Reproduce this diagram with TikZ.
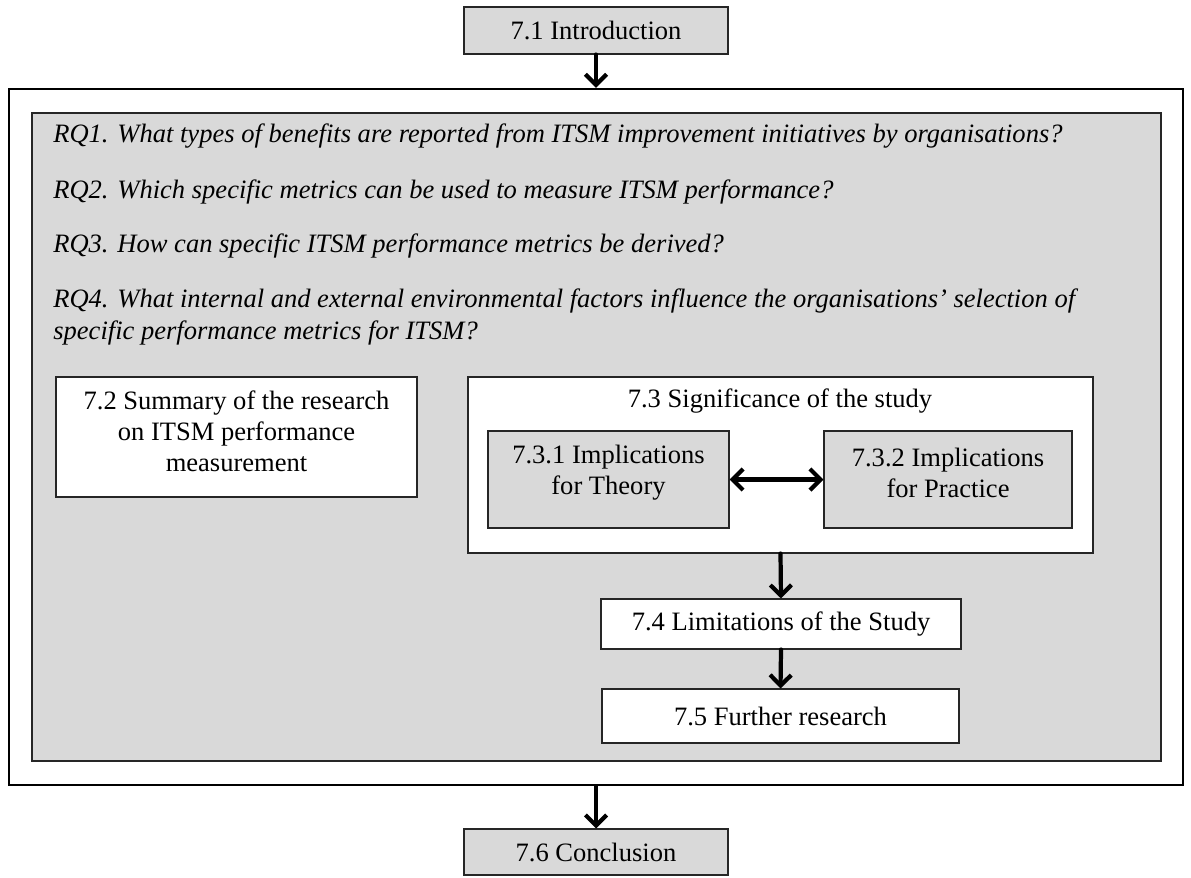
\documentclass[tikz,border=0pt]{standalone}
\usepackage{fontspec}
\setmainfont{Liberation Serif}
\usepackage{tikz}
\usetikzlibrary{arrows.meta,positioning}
\definecolor{Panel}{HTML}{D9D9D9}

\begin{document}
\begin{tikzpicture}[
    box/.style={draw=black!85,line width=0.6pt,inner sep=0pt,align=center,
      font=\fontsize{15.1}{17.6}\selectfont},
    rq/.style={anchor=west,align=left,inner sep=0pt,
      font=\fontsize{15.1}{18.2}\selectfont\itshape},
    arr/.style={-{Straight Barb[length=6pt,width=12pt]},line width=2.4pt,line cap=round},
    twoway/.style={{Straight Barb[length=6pt,width=12pt]}-{Straight Barb[length=6pt,width=12pt]},
      line width=2.4pt}
  ]
    \useasboundingbox (0,0) rectangle (23.82,-17.54);

    % outer frame and grey panel
    \node[draw,line width=1.4pt,minimum width=23.48cm,minimum height=13.92cm,inner sep=0pt]
      (frame) at (11.92,-8.74) {};
    \node[box,fill=Panel,minimum width=22.58cm,minimum height=12.96cm] (panel) at (11.93,-8.74) {};

    \node[box,fill=Panel,minimum width=5.28cm,minimum height=0.94cm] (intro) at (11.92,-0.61)
      {7.1 Introduction};
    \node[box,fill=Panel,minimum width=5.28cm,minimum height=0.92cm] (concl) at (11.92,-17.04)
      {7.6 Conclusion};

    % research questions
    \node[rq] (rq1) at (1.06,-2.72)
      {RQ1. What types of benefits are reported from ITSM improvement initiatives by organisations?};
    \node[rq] (rq2) at (1.06,-3.84)
      {RQ2. Which specific metrics can be used to measure ITSM performance?};
    \node[rq] (rq3) at (1.06,-4.92)
      {RQ3. How can specific ITSM performance metrics be derived?};
    \node[rq] (rq4) at (1.06,-6.34)
      {RQ4. What internal and external environmental factors influence the organisations' selection of\\
       specific performance metrics for ITSM?};

    \node[box,fill=white,minimum width=7.22cm,minimum height=2.40cm] (summary) at (4.73,-8.74) {};
    \node[align=center,inner sep=0pt,font=\fontsize{15.1}{17.6}\selectfont] (sumtext) at (4.73,-8.62)
      {7.2 Summary of the research\\on ITSM performance\\measurement};

    \node[box,fill=white,minimum width=12.50cm,minimum height=3.52cm] (signif) at (15.61,-9.30) {};
    \node[inner sep=0pt,font=\fontsize{15.1}{17.6}\selectfont] (sigtitle) at (15.60,-8.02)
      {7.3 Significance of the study};
    \node[box,fill=Panel,minimum width=4.82cm,minimum height=1.94cm] (theory) at (12.17,-9.59) {};
    \node[align=center,inner sep=0pt,font=\fontsize{15.1}{17.6}\selectfont] at (12.17,-9.45)
      {7.3.1 Implications\\for Theory};
    \node[box,fill=Panel,minimum width=4.96cm,minimum height=1.94cm] (practice) at (18.96,-9.59) {};
    \node[align=center,inner sep=0pt,font=\fontsize{15.1}{17.6}\selectfont] at (18.96,-9.45)
      {7.3.2 Implications\\for Practice};

    \node[box,fill=white,minimum width=7.20cm,minimum height=1.00cm] (limits) at (15.62,-12.48)
      {7.4 Limitations of the Study};
    \node[box,fill=white,minimum width=7.14cm,minimum height=1.08cm] (further) at (15.61,-14.32)
      {7.5 Further research};

    % connectors
    \draw[arr] (intro.south) -- (frame.north);
    \draw[arr] (frame.south) -- (concl.north);
    \draw[twoway] (theory.east) -- (practice.west);
    \draw[arr] (signif.south) -- (limits.north);
    \draw[arr] (limits.south) -- (further.north);
  \end{tikzpicture}
\end{document}
